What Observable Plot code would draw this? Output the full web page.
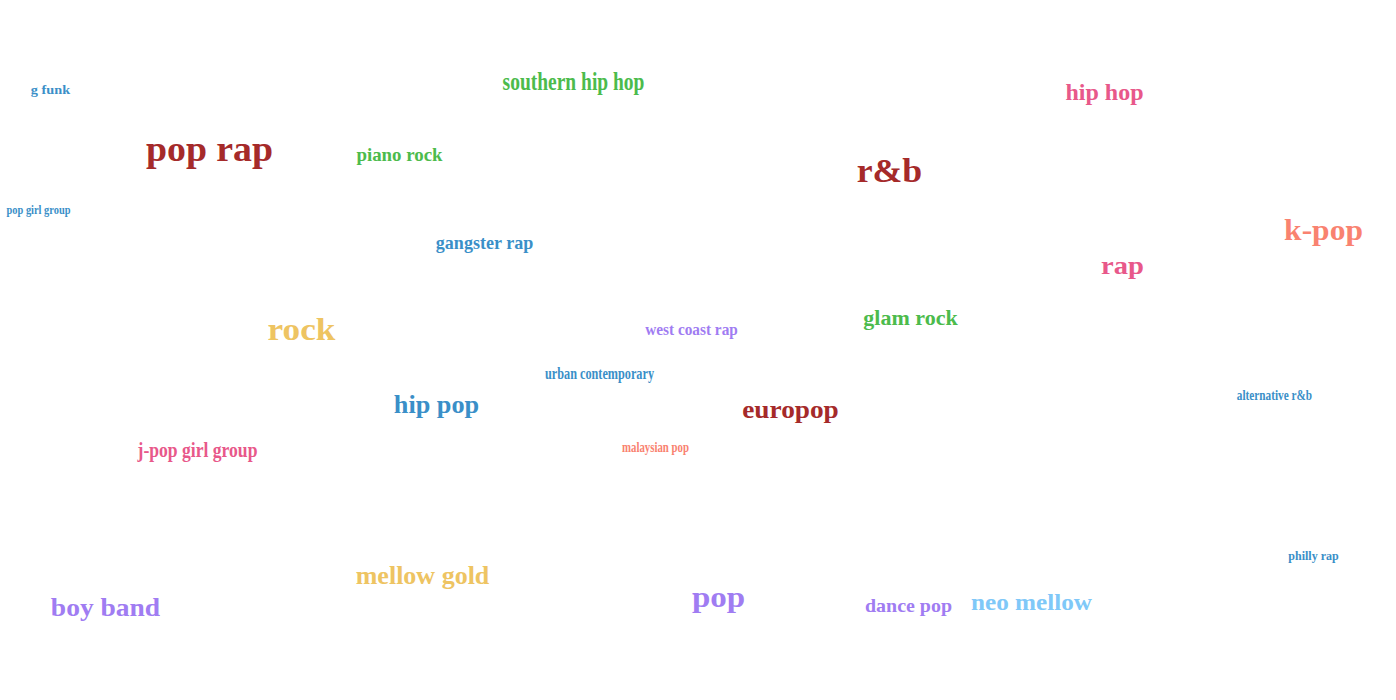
<!DOCTYPE html>
<html>
<head>
<meta charset="utf-8">
<script src="https://cdn.jsdelivr.net/npm/d3@7"></script>
<script src="https://cdn.jsdelivr.net/npm/@observablehq/plot@0.6"></script>
<style>
  body { margin: 0; background: #fff; }
</style>
</head>
<body>
<div id="chart"></div>
<script>
// word cloud: word, center x, center y (pixel space), font size, colour group
const words = ["g funk", "southern hip hop", "hip hop", "pop rap", "piano rock", "r&b", "pop girl group",
  "gangster rap", "k-pop", "rap", "rock", "west coast rap", "glam rock", "urban contemporary", "hip pop",
  "europop", "alternative r&b", "j-pop girl group", "malaysian pop", "philly rap", "mellow gold",
  "boy band", "pop", "dance pop", "neo mellow"]
const xs = [50, 573, 1104, 209, 399, 889, 38, 484, 1323, 1122, 301, 691, 910, 599, 436, 790, 1274, 197, 655, 1313, 422, 105, 718, 908, 1031]
const ys = [89, 81, 92, 149, 155, 171, 209, 242, 230, 265, 329, 329, 318, 373, 404, 409, 395, 449, 447, 556, 575, 607, 597, 605, 602]
const sizes = [13, 25, 24, 36, 18, 34, 13, 19, 30, 26, 32, 17, 20, 17, 25, 26, 15, 22, 15, 12, 26, 25, 30, 19, 24]
const groups = ["blue", "green", "pink", "red", "green", "red", "blue", "blue", "salmon", "pink", "gold", "purple",
  "green", "blue", "blue", "red", "blue", "pink", "salmon", "blue", "gold", "purple", "purple", "purple", "light"]
const groupNames = ["blue", "green", "pink", "red", "salmon", "gold", "purple", "light"]
const groupColors = ["#3a8fc8", "#4cbb4c", "#e8588a", "#a52a2a", "#f98270", "#eec462", "#a07cf2", "#7fc8f8"]
// horizontal squeeze of condensed words (1 = normal)
const squeeze = [1.1, 0.78, 1, 1.05, 1.05, 1.05, 0.8, 0.95, 1.05, 1.1, 1.1, 0.9, 1.1, 0.72, 1.05, 1.05, 0.75, 0.8, 0.72, 1, 1, 1.1, 1.1, 1.05, 1.05]

const data = words.map((w, i) => ({word: w, x: xs[i], y: ys[i], size: sizes[i], group: groups[i]}))

let chart = Plot.plot({
  width: 1396,
  height: 700,
  margin: 0,
  x: {domain: [0, 1396], axis: null},
  y: {domain: [0, 700], reverse: true, axis: null},
  color: {domain: groupNames, range: groupColors},
  marks: [
    Plot.text(data, {
      x: "x", y: "y", text: "word", fill: "group",
      fontSize: d => d.size,
      fontFamily: "Liberation Serif", fontWeight: "bold",
      textAnchor: "middle", lineAnchor: "middle"
    })
  ]
})
// squeeze or stretch each word around its center
d3.select(chart).selectAll("text").each(function(d, i) {
  const t = d3.select(this)
  const tr = t.attr("transform") || ""
  t.attr("transform", tr + ` scale(${squeeze[i]},1)`)
})
d3.select('#chart').append(() => chart)
</script>
</body>
</html>
